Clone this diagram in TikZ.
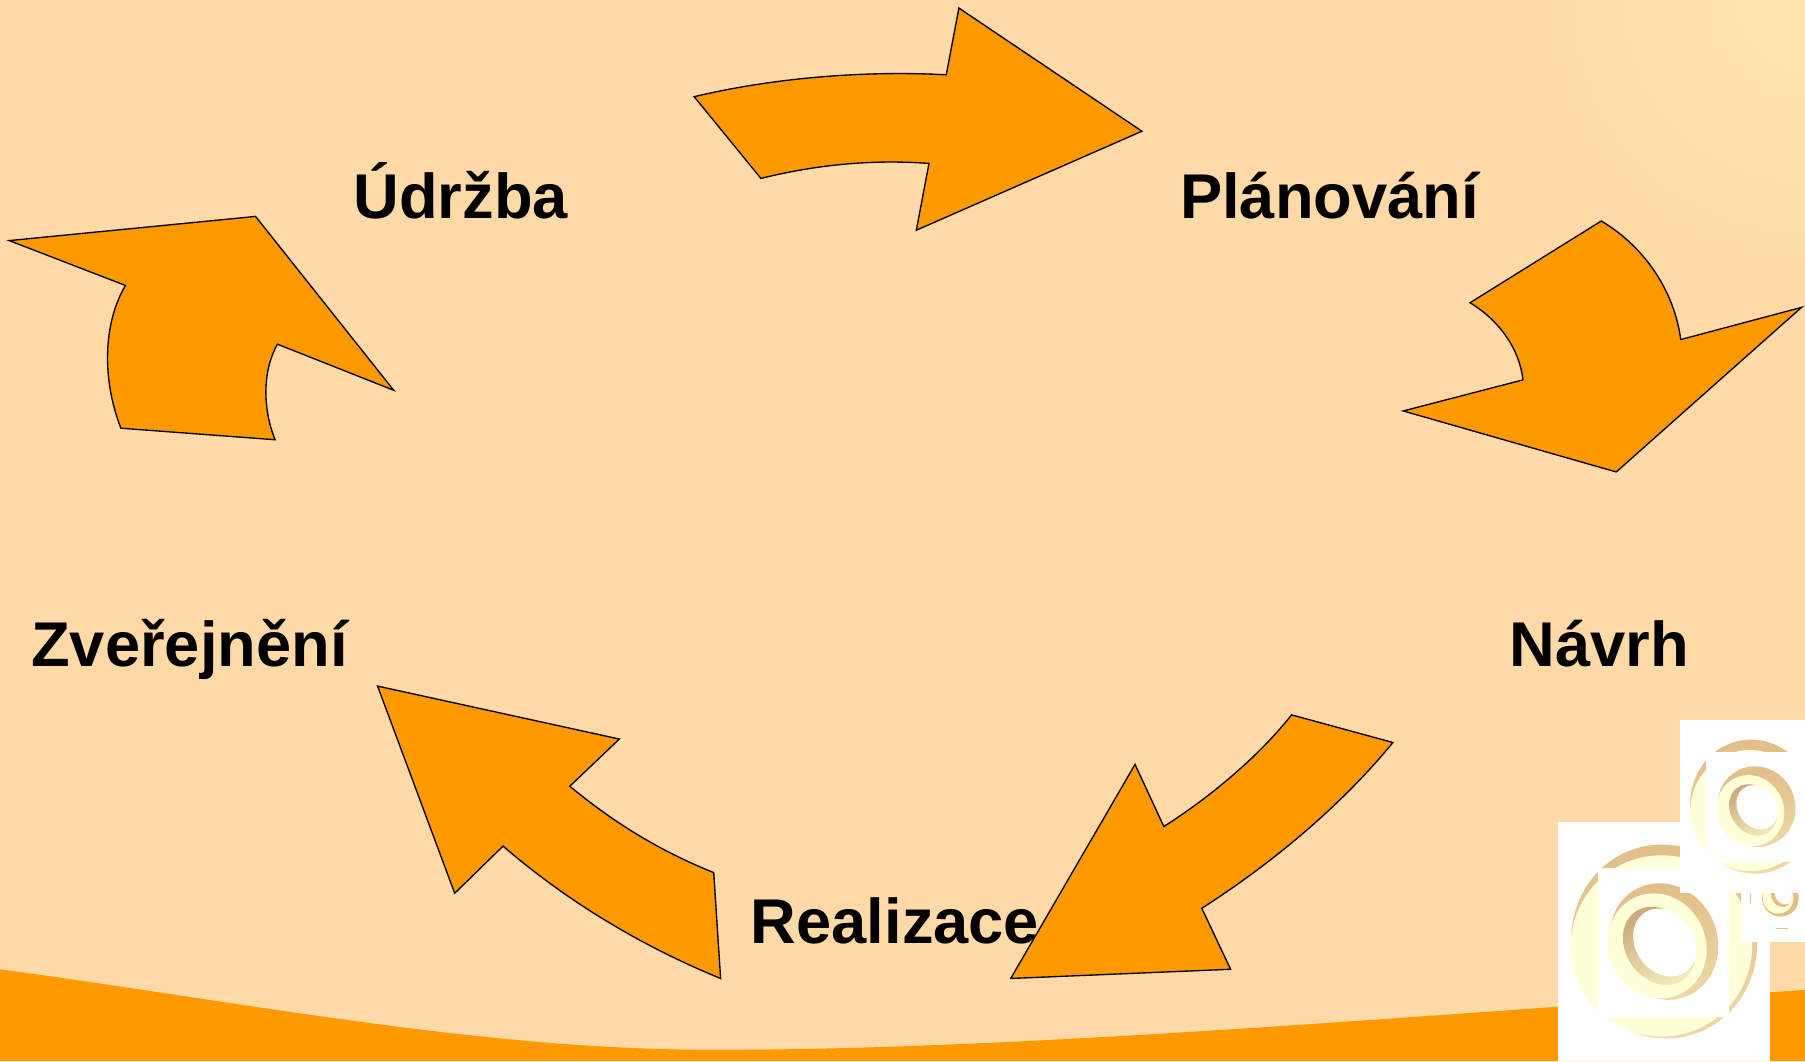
\documentclass[tikz,border=0pt]{standalone}
\usepackage{fontspec}
\setmainfont{Liberation Sans}
\definecolor{bgc}{HTML}{FFDAA6}
\definecolor{bgl}{HTML}{FFE6AE}
\definecolor{org}{HTML}{FF9900}
\definecolor{pale}{HTML}{FFFFD8}
\definecolor{tann}{HTML}{E2BE88}
\tikzset{
  cyc/.style={fill=org,draw=black,line width=1pt,line join=miter},
  lab/.style={anchor=base west,inner sep=0pt,font=\fontsize{46.9}{50}\selectfont\bfseries,text=black},
  wh/.style={fill=white,draw=none},
  backring/.style={top color=tann,bottom color=tann!55!pale},
  wall/.style={left color=tann!90!black,right color=tann!35!pale,shading angle=30}
}
\begin{document}
\begin{tikzpicture}[x=0.03cm,y=-0.03cm]
\useasboundingbox (0,0) rectangle (1568,921.7);
\fill[bgc] (0,0) rectangle (1568,921.7);
\begin{scope}
\clip (0,0) rectangle (1568,921.7);
\shade[inner color=bgl,outer color=bgc] (1568,0) circle (280);
\end{scope}
% wave
\fill[org] (0,842) .. controls (220,872) and (420,912) .. (620,912)
  .. controls (900,912) and (1250,880) .. (1568,860) -- (1568,921.7) -- (0,921.7) -- cycle;
% arrows
\draw[cyc] (603,84) .. controls (670,68) and (750,61) .. (822,65) -- (833,7) -- (992,114) -- (796,200) -- (807,142)
  .. controls (755,138) and (705,144) .. (661,155) -- cycle;
\draw[cyc] (1391,192) .. controls (1430,215) and (1455,255) .. (1460,295) -- (1565,267) -- (1404,410) -- (1219,357) -- (1323,330)
  .. controls (1320,303) and (1302,278) .. (1277,263) -- cycle;
\draw[cyc] (1210,645) .. controls (1165,700) and (1105,750) .. (1044,789) -- (1069,842) -- (878,850) -- (986,664) -- (1011,718)
  .. controls (1055,690) and (1095,655) .. (1122,621) -- cycle;
\draw[cyc] (620,758) .. controls (570,738) and (530,712) .. (495,683) -- (538,642) -- (328,596) -- (395,776) -- (437,735)
  .. controls (495,785) and (560,823) .. (626,850) -- cycle;
\draw[cyc] (239,382) .. controls (228,355) and (228,322) .. (241,299) -- (342,339) -- (222,188) -- (8,209) -- (109,248)
  .. controls (90,280) and (88,328) .. (105,372) -- cycle;
% labels
\node[lab] (udrzba) at (307,190) {Údržba};
\node[lab] (planovani) at (1025,190) {Plánování};
\node[lab] (navrh) at (1311,579) {Návrh};
\node[lab] (zverejneni) at (27,579) {Zveřejnění};
\node[lab] (realizace) at (652,820) {Realizace};
% rings (coordinates: 3x crop of the lower right corner)
\begin{scope}[shift={(1337.7,608.1)},x=0.008687cm,y=-0.008687cm]
\clip (0,0) rectangle (795,1083);
\fill[wh] (54,366) rectangle (690,1083);
% big ring
\shade[backring,rotate around={15:(373,725)}] (373,725) ellipse (278 and 292);
\fill[pale,rotate around={15:(365,738)}] (365,738) ellipse (272 and 272);
\fill[wh] (174,503) rectangle (568,950);
% big ring inner
\shade[backring,rotate around={25:(372,725)}] (372,725) ellipse (160 and 178);
\fill[pale,rotate around={25:(352,738)}] (352,738) ellipse (146 and 160);
\shade[wall,rotate around={35:(358,738)}] (358,738) ellipse (100 and 125);
\fill[wh,rotate around={35:(375,728)}] (375,728) ellipse (88 and 108);
% upper ring
\fill[wh] (420,60) rectangle (795,580);
\shade[backring,rotate around={15:(640,320)}] (640,320) ellipse (188 and 202);
\fill[pale,rotate around={15:(632,332)}] (632,332) ellipse (180 and 182);
\fill[wh] (500,155) rectangle (795,485);
\shade[backring,rotate around={25:(650,320)}] (650,320) ellipse (116 and 122);
\fill[pale,rotate around={25:(632,332)}] (632,332) ellipse (100 and 108);
\shade[wall,rotate around={35:(640,330)}] (640,330) ellipse (67 and 82);
\fill[wh,rotate around={35:(652,322)}] (652,322) ellipse (58 and 70);
% small ring
\fill[wh] (603,580) rectangle (795,725);
\begin{scope}
\clip (603,582) rectangle (795,725);
\fill[tann] (722,595) circle (55);
\fill[pale] (715,595) circle (46);
\fill[tann,rotate around={35:(722,590)}] (722,590) ellipse (26 and 34);
\fill[wh,rotate around={35:(729,586)}] (729,586) ellipse (22 and 30);
\draw[tann,line width=0.5pt] (633,582) -- (633,610) (710,685) -- (745,685);
\end{scope}
\end{scope}
\end{tikzpicture}
\end{document}
